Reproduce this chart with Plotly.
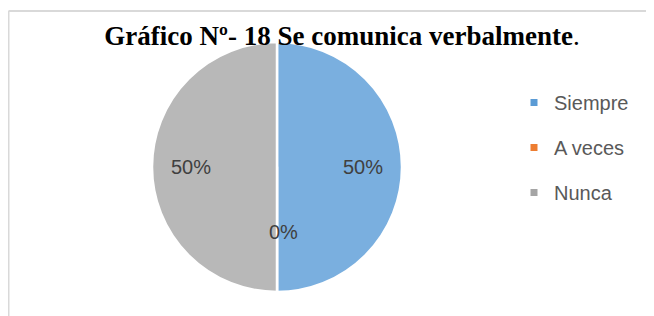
import math
import plotly.graph_objects as go

categories = ["Siempre", "A veces", "Nunca"]
values = [50, 0, 50]
colors = ["#7aafdf", "#ed7d31", "#b8b8b8"]
legend_colors = ["#5b9bd5", "#ed7d31", "#a5a5a5"]
title_text = "<b>Gráfico Nº- 18 Se comunica verbalmente</b>."

W, H = 654, 316
OFF = 8  # page body margin offset


def px(x):
    return (x - OFF) / W


def py(y):
    return 1 - (y - OFF) / H


CX, CY, R = 277, 167, 125  # pie centre / radius in screen px

fig = go.Figure()
fig.add_trace(go.Pie(
    labels=categories, values=values, sort=False, direction="clockwise",
    rotation=0, marker=dict(colors=colors, line=dict(color="white", width=2.5)),
    textinfo="none",
    domain=dict(x=[px(CX - R), px(CX + R)], y=[py(CY + R), py(CY - R)]),
    showlegend=False, hoverinfo="skip",
))
for i, c in enumerate(categories):
    fig.add_trace(go.Scatter(
        x=[None], y=[None], mode="markers", name=c,
        marker=dict(symbol="square", size=7, color=legend_colors[i]),
        legendgroup=c, showlegend=True,
    ))

# percentage labels computed from the data
total = sum(values)
label_r = [0.69, 0.52, 0.69]
label_dx = [0, 6, 0]
annotations = []
cum = 0
for i, v in enumerate(values):
    mid = (cum + v / 2) / total
    cum += v
    theta = 2 * math.pi * mid
    sx = CX + R * label_r[i] * math.sin(theta) + label_dx[i]
    sy = CY - R * label_r[i] * math.cos(theta)
    annotations.append(dict(
        x=px(sx), y=py(sy), xref="paper", yref="paper", showarrow=False,
        text=f"{v / total:.0%}", xanchor="center", yanchor="middle",
        font=dict(family="Liberation Sans", size=20, color="#404040"),
    ))

fig.update_layout(
    width=W, height=H, margin=dict(l=0, r=0, t=0, b=0),
    paper_bgcolor="white", plot_bgcolor="white",
    xaxis=dict(visible=False), yaxis=dict(visible=False),
    title=dict(text=title_text, x=px(342), xanchor="center", y=py(36), yanchor="middle",
               font=dict(family="Liberation Serif", size=27, color="black")),
    legend=dict(x=px(514), xanchor="left", y=py(83), yanchor="top",
                font=dict(family="Liberation Sans", size=20, color="#595959"),
                tracegroupgap=16, bgcolor="rgba(0,0,0,0)"),
    annotations=annotations,
    shapes=[
        dict(type="line", xref="paper", yref="paper", x0=px(8.5), x1=px(8.5), y0=0, y1=py(11),
             line=dict(color="#d9d9d9", width=2)),
        dict(type="line", xref="paper", yref="paper", x0=px(8.5), x1=1, y0=py(11), y1=py(11),
             line=dict(color="#d9d9d9", width=2)),
    ],
)
fig.write_html("out.html")
